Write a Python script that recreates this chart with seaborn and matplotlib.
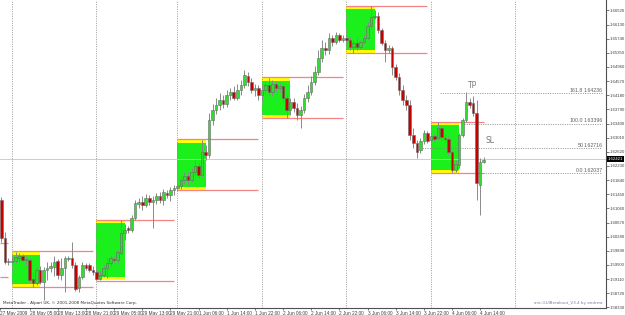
import matplotlib
matplotlib.use("Agg")
import matplotlib.pyplot as plt
from matplotlib.patches import Rectangle
from matplotlib import font_manager
import seaborn as sns
import pandas as pd

# ---------------- data (GBPUSD H1, 27 May 2009 21:00 -> 4 Jun 2009 15:00) ----------------
bar_index = list(range(-3, 135))

open_ = [1.6129, 1.6024, 1.5958,
         1.5958, 1.5961, 1.5969, 1.5975, 1.5964, 1.5964, 1.5911, 1.5900, 1.5936, 1.5903,
         1.5936, 1.5942, 1.5944, 1.5961, 1.5922, 1.5942, 1.5966, 1.5969, 1.5950, 1.5886,
         1.5917, 1.5950, 1.5950, 1.5936, 1.5930, 1.5911, 1.5922, 1.5942, 1.5955, 1.5966,
         1.5964, 1.5983, 1.6038, 1.6052, 1.6046, 1.6079, 1.6118, 1.6124, 1.6115, 1.6135,
         1.6124, 1.6129, 1.6140, 1.6129, 1.6148, 1.6143, 1.6157, 1.6162, 1.6168, 1.6184,
         1.6195, 1.6184, 1.6206, 1.6223, 1.6198, 1.6262, 1.6253, 1.6350, 1.6377, 1.6391,
         1.6405, 1.6394, 1.6419, 1.6427, 1.6410, 1.6432, 1.6446, 1.6471, 1.6455, 1.6432,
         1.6438, 1.6419, 1.6432, 1.6446, 1.6427, 1.6449, 1.6438, 1.6444, 1.6410, 1.6377,
         1.6399, 1.6383, 1.6363, 1.6377, 1.6410, 1.6427, 1.6455, 1.6482, 1.6521, 1.6548,
         1.6543, 1.6576, 1.6565, 1.6584, 1.6570, 1.6576, 1.6570, 1.6551, 1.6562, 1.6551,
         1.6565, 1.6576, 1.6609, 1.6634, 1.6637, 1.6598, 1.6562, 1.6543, 1.6548, 1.6496,
         1.6468, 1.6432, 1.6405, 1.6391, 1.6308, 1.6286, 1.6267, 1.6292, 1.6314, 1.6295,
         1.6306, 1.6300, 1.6328, 1.6300, 1.6297, 1.6262, 1.6212, 1.6226, 1.6308, 1.6350,
         1.6399, 1.6397, 1.6369, 1.6170, 1.6234]

high = [1.6137, 1.6041, 1.5969,
        1.5975, 1.5986, 1.5983, 1.5980, 1.5975, 1.5969, 1.5930, 1.5944, 1.5947, 1.5944,
        1.5958, 1.5958, 1.5975, 1.5966, 1.5969, 1.5975, 1.5975, 1.6013, 1.5958, 1.5922,
        1.5958, 1.5955, 1.5955, 1.5947, 1.5936, 1.5933, 1.5950, 1.5969, 1.5977, 1.5975,
        1.5991, 1.6074, 1.6063, 1.6057, 1.6088, 1.6129, 1.6135, 1.6140, 1.6146, 1.6143,
        1.6140, 1.6148, 1.6151, 1.6159, 1.6157, 1.6165, 1.6170, 1.6176, 1.6195, 1.6206,
        1.6206, 1.6217, 1.6239, 1.6231, 1.6295, 1.6281, 1.6369, 1.6394, 1.6410, 1.6424,
        1.6419, 1.6432, 1.6438, 1.6444, 1.6449, 1.6460, 1.6488, 1.6482, 1.6466, 1.6449,
        1.6446, 1.6446, 1.6455, 1.6466, 1.6460, 1.6457, 1.6452, 1.6449, 1.6419, 1.6410,
        1.6410, 1.6397, 1.6388, 1.6421, 1.6446, 1.6471, 1.6499, 1.6543, 1.6570, 1.6565,
        1.6590, 1.6584, 1.6592, 1.6590, 1.6584, 1.6584, 1.6579, 1.6570, 1.6576, 1.6570,
        1.6584, 1.6620, 1.6664, 1.6653, 1.6648, 1.6603, 1.6570, 1.6557, 1.6554, 1.6504,
        1.6479, 1.6446, 1.6419, 1.6405, 1.6328, 1.6295, 1.6300, 1.6322, 1.6319, 1.6314,
        1.6311, 1.6344, 1.6333, 1.6311, 1.6306, 1.6267, 1.6239, 1.6314, 1.6355, 1.6427,
        1.6410, 1.6416, 1.6405, 1.6245, 1.6248]

low = [1.6013, 1.5953, 1.5950,
       1.5953, 1.5955, 1.5958, 1.5958, 1.5950, 1.5900, 1.5889, 1.5895, 1.5897, 1.5853,
       1.5908, 1.5930, 1.5919, 1.5911, 1.5908, 1.5875, 1.5961, 1.5942, 1.5878, 1.5875,
       1.5911, 1.5936, 1.5930, 1.5922, 1.5908, 1.5908, 1.5917, 1.5914, 1.5947, 1.5958,
       1.5955, 1.5977, 1.6019, 1.6038, 1.6041, 1.6074, 1.6107, 1.6102, 1.6110, 1.6115,
       1.6052, 1.6118, 1.6121, 1.6115, 1.6135, 1.6126, 1.6143, 1.6157, 1.6159, 1.6173,
       1.6170, 1.6179, 1.6198, 1.6190, 1.6193, 1.6239, 1.6245, 1.6336, 1.6366, 1.6377,
       1.6383, 1.6386, 1.6405, 1.6405, 1.6405, 1.6419, 1.6438, 1.6444, 1.6424, 1.6416,
       1.6405, 1.6405, 1.6421, 1.6419, 1.6416, 1.6427, 1.6427, 1.6399, 1.6355, 1.6363,
       1.6372, 1.6350, 1.6328, 1.6369, 1.6399, 1.6419, 1.6446, 1.6474, 1.6510, 1.6529,
       1.6532, 1.6554, 1.6559, 1.6565, 1.6565, 1.6565, 1.6543, 1.6535, 1.6543, 1.6546,
       1.6559, 1.6570, 1.6603, 1.6628, 1.6590, 1.6557, 1.6510, 1.6535, 1.6474, 1.6460,
       1.6419, 1.6391, 1.6377, 1.6295, 1.6273, 1.6245, 1.6259, 1.6284, 1.6286, 1.6289,
       1.6292, 1.6295, 1.6295, 1.6289, 1.6253, 1.6204, 1.6206, 1.6217, 1.6303, 1.6344,
       1.6383, 1.6361, 1.6129, 1.6088, 1.6231]

close = [1.6024, 1.5958, 1.5961,
         1.5961, 1.5972, 1.5975, 1.5964, 1.5966, 1.5908, 1.5900, 1.5936, 1.5903, 1.5936,
         1.5942, 1.5947, 1.5958, 1.5922, 1.5942, 1.5969, 1.5969, 1.5950, 1.5884, 1.5917,
         1.5950, 1.5942, 1.5936, 1.5930, 1.5911, 1.5922, 1.5942, 1.5955, 1.5969, 1.5964,
         1.5986, 1.6038, 1.6046, 1.6046, 1.6079, 1.6121, 1.6124, 1.6115, 1.6135, 1.6124,
         1.6129, 1.6140, 1.6129, 1.6151, 1.6143, 1.6157, 1.6162, 1.6168, 1.6184, 1.6195,
         1.6184, 1.6206, 1.6223, 1.6198, 1.6262, 1.6253, 1.6350, 1.6377, 1.6391, 1.6405,
         1.6394, 1.6419, 1.6427, 1.6410, 1.6432, 1.6446, 1.6474, 1.6455, 1.6432, 1.6438,
         1.6419, 1.6432, 1.6446, 1.6427, 1.6449, 1.6438, 1.6444, 1.6410, 1.6377, 1.6399,
         1.6383, 1.6363, 1.6377, 1.6410, 1.6427, 1.6455, 1.6482, 1.6521, 1.6548, 1.6543,
         1.6576, 1.6565, 1.6584, 1.6570, 1.6576, 1.6570, 1.6551, 1.6562, 1.6551, 1.6565,
         1.6576, 1.6609, 1.6634, 1.6637, 1.6598, 1.6562, 1.6543, 1.6548, 1.6496, 1.6468,
         1.6432, 1.6405, 1.6391, 1.6308, 1.6286, 1.6262, 1.6292, 1.6314, 1.6292, 1.6306,
         1.6297, 1.6328, 1.6303, 1.6297, 1.6262, 1.6212, 1.6228, 1.6308, 1.6350, 1.6399,
         1.6391, 1.6369, 1.6176, 1.6234, 1.6239]

# Asian-session boxes: first bar of each day (00:00), 8 bars each
session_starts = [0, 24, 47, 71, 95, 119]
session_bars = 8
prev_session_high = 1.6011
prev_session_low = 1.5917

# day separators (bar index at 00:00)
day_breaks = [0, 24, 47, 71, 95, 119, 143]

time_tick_pos = [-3.3, 5, 13, 21, 29, 37, 45, 53, 61, 69, 77, 85, 93, 101, 109, 117, 125, 133]
time_tick_labels = ["27 May 2009", "28 May 05:00", "28 May 13:00", "28 May 21:00",
                    "29 May 05:00", "29 May 13:00", "29 May 21:00", "1 Jun 06:00",
                    "1 Jun 14:00", "1 Jun 22:00", "2 Jun 06:00", "2 Jun 14:00",
                    "2 Jun 22:00", "3 Jun 06:00", "3 Jun 14:00", "3 Jun 22:00",
                    "4 Jun 06:00", "4 Jun 14:00"]

price_ticks = [1.58330, 1.58720, 1.59110, 1.59500, 1.59890, 1.60280, 1.60670, 1.61060,
               1.61450, 1.61840, 1.62230, 1.62620, 1.63010, 1.63400, 1.63790, 1.64180,
               1.64570, 1.64960, 1.65350, 1.65740, 1.66130, 1.66520]

fib_names = ["161.8", "100.0", "50", "0.0"]
fib_prices = [1.64236, 1.63396, 1.62716, 1.62037]
fib_start = [121.5, 128.5, 116.0, 127.8]

bid_price = 1.62421
tp_label = ("TP", 129.5, 1.6444)
sl_label = ("SL", 134.5, 1.6292)

# ---------------- drawing ----------------
sns.set_theme(style="white")
plt.rcParams["font.family"] = ["DejaVu Sans"]

available = {f.name for f in font_manager.fontManager.ttflist}
small_font = ["Liberation Sans Narrow", "DejaVu Sans"] if "Liberation Sans Narrow" in available \
    else ["Liberation Sans", "DejaVu Sans"]

df = pd.DataFrame({"i": bar_index, "o": open_, "h": high, "l": low, "c": close})
assert len(df) == 138

W, H = 625, 315
fig = plt.figure(figsize=(W / 100, H / 100), dpi=100)
fig.patch.set_facecolor("white")
ax = fig.add_axes([0, 7 / H, 606 / W, 308 / H])
ax.set_facecolor("white")

x0 = -12 / 3.52
x1 = (606 - 12) / 3.52
y_top = 1.66807
y_bot = y_top - 308 * 0.0002758
ax.set_xlim(x0, x1)
ax.set_ylim(y_bot, y_top)
px = (y_top - y_bot) / 308.0  # price per pixel

box_green = "#1cf01c"
yellow = "#ffff00"
line_red = "#f48484"

# previous day lines (ending at left edge)
ax.hlines([prev_session_high, prev_session_low], x0, -1, color=line_red, lw=0.9, zorder=2)

n_sessions = len(session_starts)
for k, s in enumerate(session_starts):
    seg = df[(df.i >= s) & (df.i < s + session_bars)]
    hi, lo = seg.h.max(), seg.l.min()
    ax.add_patch(Rectangle((s, lo), session_bars, hi - lo, facecolor=box_green,
                           edgecolor="none", zorder=1))
    band = 3.2 * px
    ax.add_patch(Rectangle((s, hi - band), session_bars, band, facecolor=yellow,
                           edgecolor="none", zorder=1.1))
    ax.add_patch(Rectangle((s, lo), session_bars, band, facecolor=yellow,
                           edgecolor="none", zorder=1.1))
    end = session_starts[k + 1] - 1 if k + 1 < n_sessions else df.i.max()
    ax.hlines([hi + 0.4 * px, lo - 0.4 * px], s, end, color=line_red, lw=0.9, zorder=2)

# day separators
for d in day_breaks:
    ax.axvline(d, color="#8c8c8c", lw=0.6, ls=(0, (1.2, 1.6)), zorder=1.5)

# bid line
ax.axhline(bid_price, color="#c8d0c8", lw=0.7, zorder=1.2)

# fibonacci levels
for name, p, xs in zip(fib_names, fib_prices, fib_start):
    ax.hlines(p, xs, 167.5, color="#808080", lw=0.6, ls=(0, (1.2, 1.6)), zorder=1.3)
    ax.text(162.3, p + 0.3 * px, name, fontsize=3.8, color="#606060", family=small_font,
            ha="right", va="bottom", zorder=4)
    ax.text(167.8, p + 0.3 * px, f"{p:.5f}", fontsize=3.8, color="#606060", family=small_font,
            ha="right", va="bottom", zorder=4)

# candles
up = df[df.c >= df.o]
dn = df[df.c < df.o]
ax.vlines(df.i, df.l, df.h, color="#8a8a8a", lw=0.7, zorder=3)
ax.bar(up.i, (up.c - up.o).clip(lower=0.4 * px), bottom=up.o, width=0.72,
       color="#2fdc2f", edgecolor="#6a6a6a", linewidth=0.4, zorder=3.5)
ax.bar(dn.i, (dn.o - dn.c), bottom=dn.c, width=0.72,
       color="#c80000", edgecolor="#6a6a6a", linewidth=0.4, zorder=3.5)

# TP / SL
for lab, xi, yp in (tp_label, sl_label):
    ax.text(xi, yp, lab, fontsize=5.5, color="#7a7a7a", ha="left", va="center", zorder=4)

# bottom texts inside chart
ax.text(3 / 606, 5 / 308, "MetaTrader - Alpari UK, \u00a9 2001-2008 MetaQuotes Software Corp.",
        transform=ax.transAxes, fontsize=3.0, color="#303030", ha="left", va="center")
ax.text(603 / 606, 5 / 308, "ant-GUIBreakout_V3.4 by andrew",
        transform=ax.transAxes, fontsize=3.0, color="#8080a0", ha="right", va="center")

# axes / ticks
for side in ("top", "left"):
    ax.spines[side].set_visible(False)
for side in ("right", "bottom"):
    ax.spines[side].set_color("#505050")
    ax.spines[side].set_linewidth(0.8)

ax.yaxis.tick_right()
ax.set_yticks(price_ticks)
ax.set_yticklabels([f"{t:.5f}" for t in price_ticks], family=small_font)
ax.tick_params(axis="y", which="both", right=True, length=2, width=0.5, pad=0.6,
               labelsize=3.1, colors="#404040")
ax.set_xticks(time_tick_pos)
ax.set_xticklabels(time_tick_labels, ha="left", family=small_font)
ax.tick_params(axis="x", which="both", bottom=True, length=1.5, width=0.5, pad=0.6,
               labelsize=3.4, colors="#404040")
ax.grid(False)

# current bid label on price axis
ax.text(1.0035, bid_price, f"{bid_price:.5f}", transform=ax.get_yaxis_transform(),
        fontsize=3.1, color="white", ha="left", va="center", zorder=6, clip_on=False,
        family=small_font, bbox=dict(facecolor="black", edgecolor="none", pad=0.5))

fig.savefig("out.png", dpi=100, facecolor="white")
